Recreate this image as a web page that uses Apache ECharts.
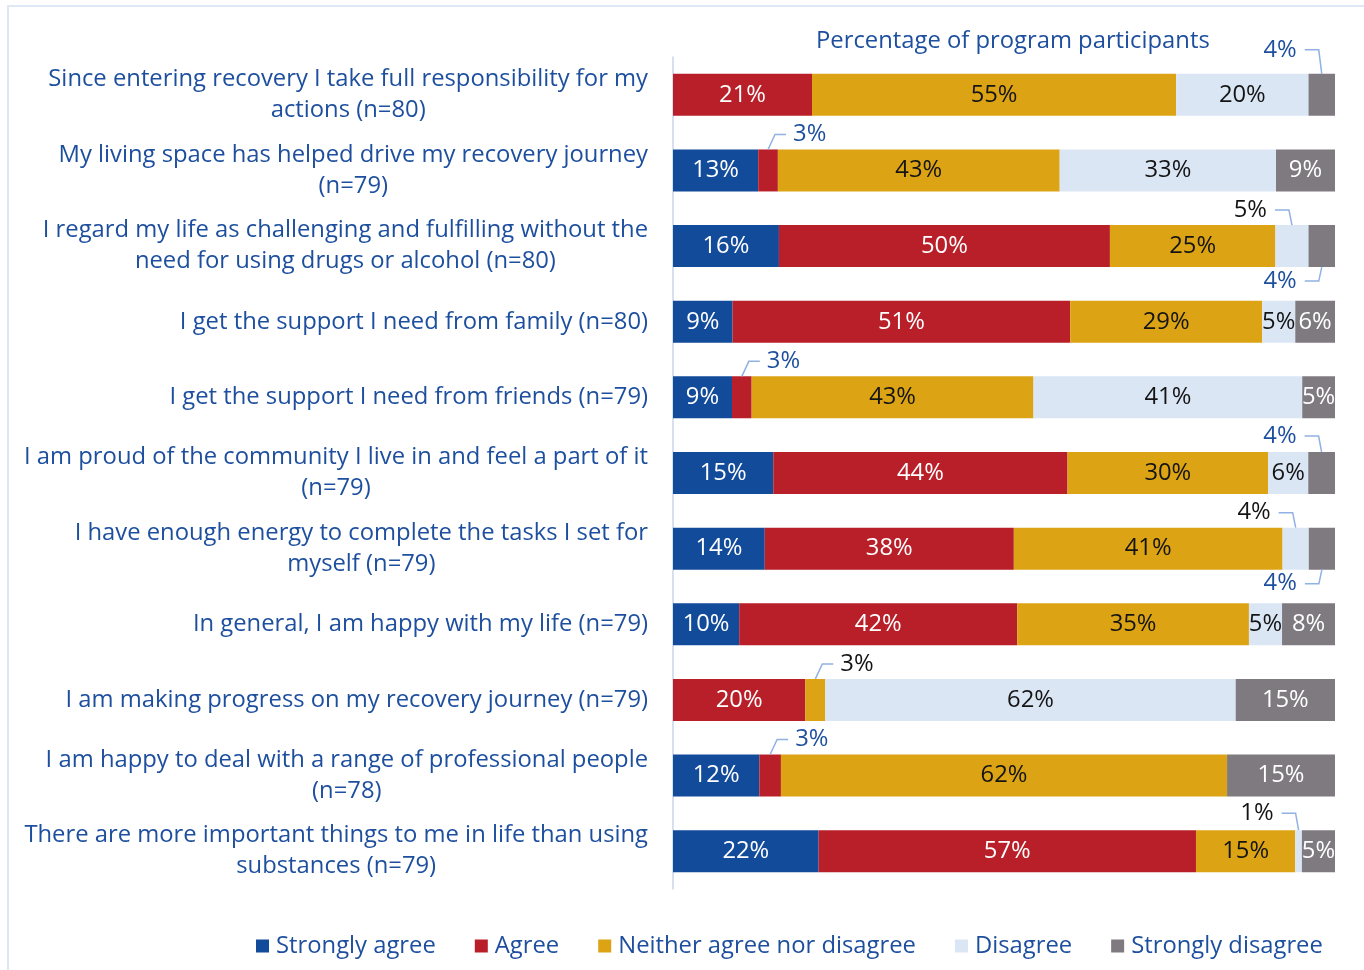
<!DOCTYPE html>
<html><head><meta charset="utf-8">
<script src="https://cdn.jsdelivr.net/npm/echarts@6/dist/echarts.min.js"></script>
<style>html,body{margin:0;padding:0;background:#fff}#c{width:1364px;height:970px}</style>
</head><body><div id="c"></div>
<script>
const categories = [
  'Since entering recovery I take full responsibility for my\nactions (n=80)',
  'My living space has helped drive my recovery journey\n(n=79)',
  'I regard my life as challenging and fulfilling without the\nneed for using drugs or alcohol (n=80)',
  'I get the support I need from family (n=80)',
  'I get the support I need from friends (n=79)',
  'I am proud of the community I live in and feel a part of it\n(n=79)',
  'I have enough energy to complete the tasks I set for\nmyself (n=79)',
  'In general, I am happy with my life (n=79)',
  'I am making progress on my recovery journey (n=79)',
  'I am happy to deal with a range of professional people\n(n=78)',
  'There are more important things to me in life than using\nsubstances (n=79)'
];
const seriesNames = ['Strongly agree', 'Agree', 'Neither agree nor disagree', 'Disagree', 'Strongly disagree'];
const strongAgree    = [0, 13, 16, 9, 9, 15, 14, 10, 0, 12, 22];
const agree          = [21, 3, 50, 51, 3, 44, 38, 42, 20, 3, 57];
const neither        = [55, 43, 25, 29, 43, 30, 41, 35, 3, 62, 15];
const disagree       = [20, 33, 5, 5, 41, 6, 4, 5, 62, 0, 1];
const strongDisagree = [4, 9, 4, 6, 5, 4, 4, 8, 15, 15, 5];
const axisTitle = 'Percentage of program participants';

const FONT = 'Open Sans';
const FS = 23.8;
const BLUE = '#1d4f9e';
const DARK = '#141414';
const colors = ['#134b9b', '#b81f29', '#dca414', '#dbe6f4', '#7f7a80'];
const labelColors = ['#ffffff', '#ffffff', DARK, DARK, '#ffffff'];
const raw = [strongAgree, agree, neither, disagree, strongDisagree];
const rowTotals = categories.map((_, i) => raw.reduce((s, arr) => s + arr[i], 0));
const norm = raw.map(arr => arr.map((v, i) => v / rowTotals[i] * 100));

// callouts for small segments (row index, series index, placement)
const callouts = [
  {row: 0, s: 4, side: 'left', dy: -45, color: BLUE},
  {row: 1, s: 1, side: 'right', dy: -36, color: BLUE},
  {row: 2, s: 3, side: 'left', dy: -36, color: DARK},
  {row: 2, s: 4, side: 'left', dy: 35, color: BLUE},
  {row: 4, s: 1, side: 'right', dy: -36, color: BLUE},
  {row: 5, s: 4, side: 'left', dy: -37, color: BLUE},
  {row: 6, s: 3, side: 'left', dy: -36, color: DARK},
  {row: 6, s: 4, side: 'left', dy: 35, color: BLUE},
  {row: 8, s: 2, side: 'right', dy: -36, color: DARK},
  {row: 9, s: 1, side: 'right', dy: -36, color: BLUE},
  {row: 10, s: 3, side: 'left', dy: -38, color: DARK}
];
function hasCallout(row, s) { return callouts.some(c => c.row === row && c.s === s); }
function segCenter(row, s) {
  let start = 0;
  for (let k = 0; k < s; k++) start += norm[k][row];
  return start + norm[s][row] / 2;
}
const BAR_W = 42;

const chart = echarts.init(document.getElementById('c'), null, {renderer: 'canvas'});
const barSeries = seriesNames.map((name, s) => ({
  name: name,
  type: 'bar',
  stack: 'total',
  barWidth: BAR_W,
  itemStyle: {color: colors[s]},
  label: {
    show: true,
    position: 'inside',
    color: labelColors[s],
    fontFamily: FONT,
    fontSize: FS,
    formatter: p => (raw[s][p.dataIndex] > 0 && !hasCallout(p.dataIndex, s)) ? raw[s][p.dataIndex] + '%' : ''
  },
  emphasis: {disabled: true},
  data: norm[s]
}));

const calloutSeries = {
  type: 'custom',
  coordinateSystem: 'cartesian2d',
  z: 10,
  silent: true,
  data: callouts.map(c => [segCenter(c.row, c.s), c.row]),
  renderItem: function (params, api) {
    const c = callouts[params.dataIndex];
    const p = api.coord([api.value(0), api.value(1)]);
    const cx = p[0], cy = p[1];
    const half = BAR_W / 2;
    const ly = cy + c.dy;
    const ey = c.dy < 0 ? cy - half : cy + half;
    let pts, tx, align;
    if (c.side === 'left') {
      pts = [[cx - 17, ly], [cx - 3, ly], [cx, ey]];
      tx = cx - 25; align = 'right';
    } else {
      pts = [[cx, ey], [cx + 7, ly], [cx + 18, ly]];
      tx = cx + 25; align = 'left';
    }
    return {
      type: 'group',
      children: [
        {type: 'polyline', shape: {points: pts}, style: {stroke: '#8fb1e3', lineWidth: 1.5, fill: null}},
        {type: 'text', style: {text: raw[c.s][c.row] + '%', x: tx, y: ly, align: align, verticalAlign: 'middle',
          fill: c.color, font: FS + 'px "' + FONT + '"'}}
      ]
    };
  }
};

chart.setOption({
  animation: false,
  backgroundColor: '#ffffff',
  title: {
    text: axisTitle,
    left: 811, top: 24,
    textStyle: {fontFamily: FONT, fontSize: 23.8, fontWeight: 'normal', color: BLUE}
  },
  graphic: [{
    type: 'rect', shape: {x: 8, y: 6, width: 1400, height: 1000},
    style: {fill: null, stroke: '#dfe7f4', lineWidth: 2}, silent: true
  }],
  legend: {
    data: seriesNames,
    left: 251, top: 929,
    icon: 'rect', itemWidth: 13, itemHeight: 13, itemGap: 39,
    textStyle: {fontFamily: FONT, fontSize: FS, color: BLUE, padding: [0, 0, 0, 2]}
  },
  grid: {left: 673, right: 29, top: 57, bottom: 81, containLabel: false},
  xAxis: {type: 'value', min: 0, max: 100, show: false},
  yAxis: {
    type: 'category',
    inverse: true,
    data: categories,
    axisTick: {show: false},
    axisLine: {show: true, lineStyle: {color: '#c9d6ea', width: 1.5}},
    axisLabel: {
      margin: 25,
      formatter: v => v.split('\n').map(l => '{c|' + l + '}').join('\n'),
      rich: {c: {align: 'center', fontFamily: FONT, fontSize: FS, lineHeight: 31, color: BLUE}}
    }
  },
  series: barSeries.concat([calloutSeries])
});
</script></body></html>
